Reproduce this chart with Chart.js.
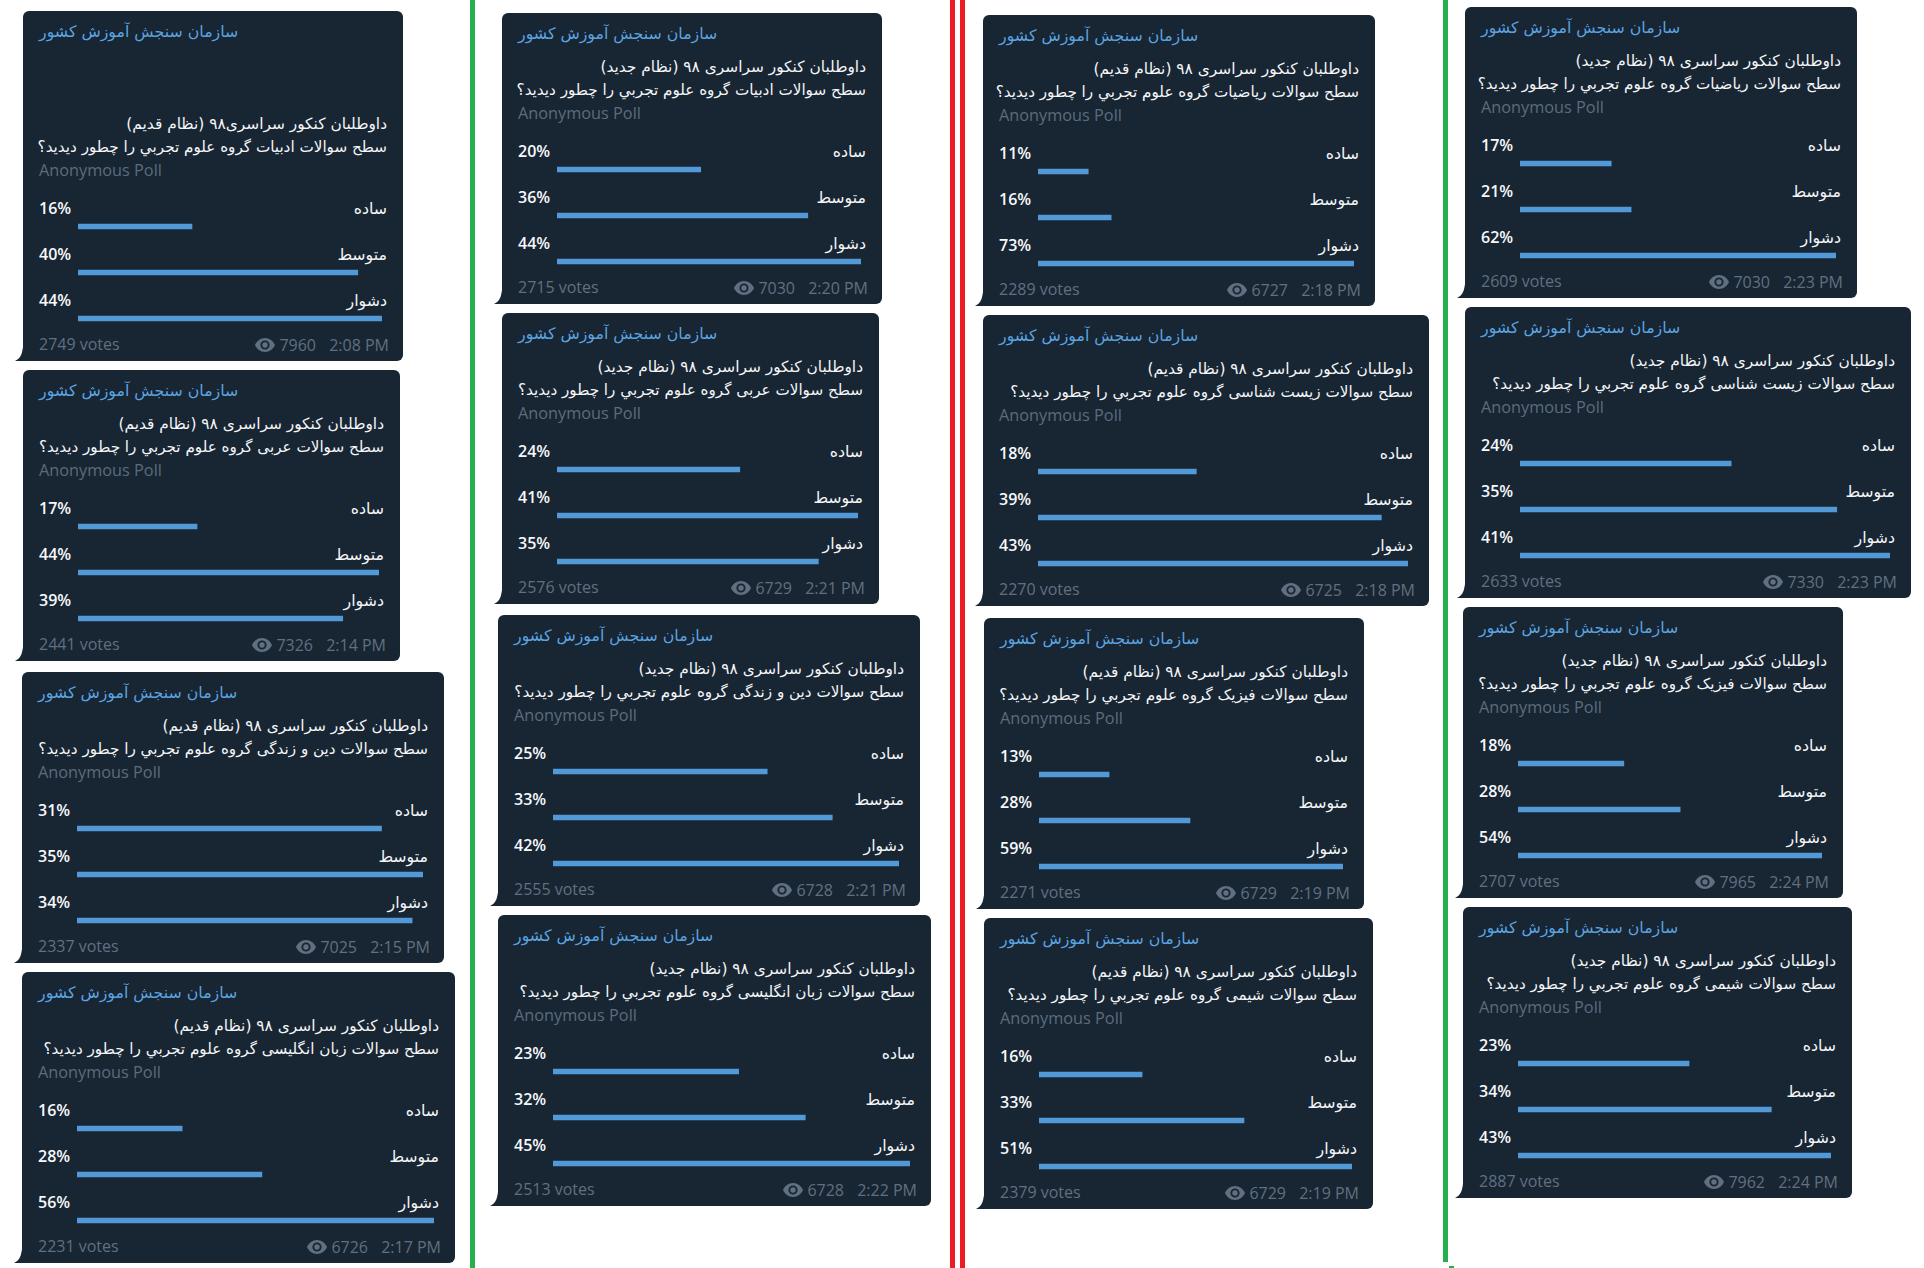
<!DOCTYPE html>
<html lang="fa">
<head>
<meta charset="utf-8">
<title>نظرسنجی سازمان سنجش آموزش کشور</title>
<script src="https://cdn.jsdelivr.net/npm/chart.js@4"></script>
<style>
html,body{margin:0;padding:0;background:#fff;}
#page{position:relative;width:1924px;height:1268px;overflow:hidden;background:#fff;font-family:'Open Sans','DejaVu Sans',sans-serif;}
.rule{position:absolute;}
.card{position:absolute;background:#182533;border-radius:6px;border-bottom-left-radius:0;}
.tail{position:absolute;left:-8px;bottom:0;width:9px;height:14px;background:#182533;clip-path:path('M9 0 L9 14 L0 14 C2 13 5 11 6.500 7 C7.200 4.500 7.800 2 8 0 Z');}
.t{position:absolute;white-space:nowrap;line-height:24px;height:24px;}
.fa{direction:rtl;font-family:'DejaVu Sans',sans-serif;}
.title{color:#5ba4e0;font-size:15.8px;left:16px;}
.q{color:#f4f6f8;font-size:15.4px;right:16px;}
.q2{font-size:15.2px;}
.opt{color:#f4f6f8;font-size:15.8px;right:16px;}
.anon{color:#5c6c7c;font-size:16.3px;left:16px;}
.pct{color:#f7f9fb;font-size:16px;font-weight:600;left:16px;}
.votes,.views,.time{color:#607080;font-size:16px;}
.votes{left:16px;}
.eye{position:absolute;width:20px;height:14px;}
canvas{position:absolute;display:block;}
</style>
</head>
<body>
<div id="page"></div>
<script>
/* ---------- data ---------- */
const channelName = 'سازمان سنجش آموزش کشور';
const anonymousLabel = 'Anonymous Poll';
const optionLabels = ['ساده', 'متوسط', 'دشوار'];

const questionFirstLines = [
  'داوطلبان کنکور سراسری۹۸ (نظام قدیم)',
  'داوطلبان کنکور سراسری ۹۸ (نظام قدیم)',
  'داوطلبان کنکور سراسری ۹۸ (نظام قدیم)',
  'داوطلبان کنکور سراسری ۹۸ (نظام قدیم)',
  'داوطلبان کنکور سراسری ۹۸ (نظام جدید)',
  'داوطلبان کنکور سراسری ۹۸ (نظام جدید)',
  'داوطلبان کنکور سراسری ۹۸ (نظام جدید)',
  'داوطلبان کنکور سراسری ۹۸ (نظام جدید)',
  'داوطلبان کنکور سراسری ۹۸ (نظام قدیم)',
  'داوطلبان کنکور سراسری ۹۸ (نظام قدیم)',
  'داوطلبان کنکور سراسری ۹۸ (نظام قدیم)',
  'داوطلبان کنکور سراسری ۹۸ (نظام قدیم)',
  'داوطلبان کنکور سراسری ۹۸ (نظام جدید)',
  'داوطلبان کنکور سراسری ۹۸ (نظام جدید)',
  'داوطلبان کنکور سراسری ۹۸ (نظام جدید)',
  'داوطلبان کنکور سراسری ۹۸ (نظام جدید)'
];
const questionSecondLines = [
  'سطح سوالات ادبیات گروه علوم تجربي را چطور دیدید؟',
  'سطح سوالات عربی گروه علوم تجربي را چطور دیدید؟',
  'سطح سوالات دین و زندگی گروه علوم تجربي را چطور دیدید؟',
  'سطح سوالات زبان انگلیسی گروه علوم تجربي را چطور دیدید؟',
  'سطح سوالات ادبیات گروه علوم تجربي را چطور دیدید؟',
  'سطح سوالات عربی گروه علوم تجربي را چطور دیدید؟',
  'سطح سوالات دین و زندگی گروه علوم تجربي را چطور دیدید؟',
  'سطح سوالات زبان انگلیسی گروه علوم تجربي را چطور دیدید؟',
  'سطح سوالات ریاضیات گروه علوم تجربي را چطور دیدید؟',
  'سطح سوالات زیست شناسی گروه علوم تجربي را چطور دیدید؟',
  'سطح سوالات فیزیک گروه علوم تجربي را چطور دیدید؟',
  'سطح سوالات شیمی گروه علوم تجربي را چطور دیدید؟',
  'سطح سوالات ریاضیات گروه علوم تجربي را چطور دیدید؟',
  'سطح سوالات زیست شناسی گروه علوم تجربي را چطور دیدید؟',
  'سطح سوالات فیزیک گروه علوم تجربي را چطور دیدید؟',
  'سطح سوالات شیمی گروه علوم تجربي را چطور دیدید؟'
];

/* printed percentages: easy, medium, hard */
const printedPercents = [
  [16,40,44],[17,44,39],[31,35,34],[16,28,56],
  [20,36,44],[24,41,35],[25,33,42],[23,32,45],
  [11,16,73],[18,39,43],[13,28,59],[16,33,51],
  [17,21,62],[24,35,41],[18,28,54],[23,34,43]
];
/* bar lengths, in percent */
const barPercents = [
  [16.5,40.5,44],[17.4,44,38.7],[30.8,35,33.9],[16.5,29,56],
  [20.8,36.3,44],[24.9,41,35.6],[26,33.9,42],[23.4,31.8,45],
  [11.6,16.9,73],[18.4,39.9,43],[13.6,29.3,59],[16.8,33.4,51],
  [17.9,21.8,62],[23.4,35.1,41],[18.8,28.8,54],[23.5,34.8,43]
];
const voteCounts = [2749,2441,2337,2231,2715,2576,2555,2513,2289,2270,2271,2379,2609,2633,2707,2887];
const viewCounts = [7960,7326,7025,6726,7030,6729,6728,6728,6727,6725,6729,6729,7030,7330,7965,7962];
const postTimes = ['2:08 PM','2:14 PM','2:15 PM','2:17 PM','2:20 PM','2:21 PM','2:21 PM','2:22 PM',
                   '2:18 PM','2:18 PM','2:19 PM','2:19 PM','2:23 PM','2:23 PM','2:24 PM','2:24 PM'];

/* ---------- page layout (screenshot collage) ---------- */
const cardLeft   = [23,23,22,22, 502,502,498,498, 983,983,984,984, 1465,1465,1463,1463];
const cardRight  = [403,400,444,455, 882,879,920,931, 1375,1429,1364,1373, 1857,1911,1843,1852];
const cardTop    = [11,370,672,972, 13,313,615,915, 15,315,618,918, 7,307,607,907];
const cardHeight = [350,291,291,291, 291,291,291,291, 291,291,291,291, 291,291,291,291];
const dividerRules = [
  {x:470,w:5,h:1268,c:'#22b14c'},
  {x:950,w:5,h:1268,c:'#ed1c24'},
  {x:960,w:5,h:1268,c:'#ed1c24'},
  {x:1443,w:5,h:1262,c:'#22b14c'},
  {x:1449,y:1266,w:5,h:2,c:'#22b14c'}
];

const page = document.getElementById('page');
dividerRules.forEach(r => {
  const d = document.createElement('div');
  d.className = 'rule';
  d.style.cssText = `left:${r.x}px;top:${r.y||0}px;width:${r.w}px;height:${r.h}px;background:${r.c}`;
  page.appendChild(d);
});

function addText(parent, cls, text, center, extra) {
  const s = document.createElement('div');
  s.className = 't ' + cls;
  s.textContent = text;
  s.style.top = (center - 12) + 'px';
  if (extra) Object.assign(s.style, extra);
  parent.appendChild(s);
  return s;
}

const BAR_LEFT = 55, BAR_RIGHT_PAD = 21, BAR_AREA_TOP = 133, ROW = 46;

cardLeft.forEach((left, i) => {
  const width = cardRight[i] - left;
  const extra = cardHeight[i] - 291;
  const card = document.createElement('div');
  card.className = 'card';
  card.style.cssText = `left:${left}px;top:${cardTop[i]}px;width:${width}px;height:${cardHeight[i]}px`;
  page.appendChild(card);
  const tail = document.createElement('div');
  tail.className = 'tail';
  card.appendChild(tail);

  addText(card, 'fa title', channelName, 21);
  addText(card, 'fa q', questionFirstLines[i], 54 + extra);
  addText(card, 'fa q q2', questionSecondLines[i], 76.500 + extra);
  addText(card, 'anon', anonymousLabel, 100 + extra);

  optionLabels.forEach((label, r) => {
    addText(card, 'pct', printedPercents[i][r] + '%', 138 + extra + r * ROW);
    addText(card, 'fa opt', label, 139 + extra + r * ROW);
  });

  addText(card, 'votes', voteCounts[i] + ' votes', 274 + extra);
  addText(card, 'time', postTimes[i], 275 + extra, {right:'14px'});
  addText(card, 'views', String(viewCounts[i]), 275 + extra, {right:'87px'});
  const eye = document.createElementNS('http://www.w3.org/2000/svg', 'svg');
  eye.setAttribute('viewBox', '0 0 20 14');
  eye.setAttribute('class', 'eye');
  eye.style.right = '128px';
  eye.style.top = (268 + extra) + 'px';
  eye.innerHTML = '<path fill="#607080" d="M10 0C5.5 0 1.7 2.9 0 7c1.7 4.1 5.5 7 10 7s8.3-2.9 10-7c-1.7-4.1-5.5-7-10-7zm0 11.6A4.6 4.6 0 1 1 10 2.4a4.6 4.6 0 0 1 0 9.2zM10 4.300a2.700 2.700 0 1 0 0 5.400a2.700 2.700 0 0 0 0-5.400z"/>';
  card.appendChild(eye);

  const canvas = document.createElement('canvas');
  const barFull = width - BAR_LEFT - BAR_RIGHT_PAD;
  canvas.width = barFull;
  canvas.height = ROW * 3 + 1;
  canvas.style.cssText = `left:${BAR_LEFT}px;top:${BAR_AREA_TOP + extra}px;width:${barFull}px;height:${ROW * 3 + 1}px`;
  card.appendChild(canvas);

  new Chart(canvas, {
    type: 'bar',
    data: {
      labels: optionLabels,
      datasets: [{
        data: barPercents[i],
        backgroundColor: '#5299d8',
        borderWidth: 0,
        barThickness: 5
      }]
    },
    options: {
      indexAxis: 'y',
      responsive: false,
      animation: false,
      devicePixelRatio: 1,
      layout: {padding: {top: 0.5, bottom: 0.5, left: 0, right: 0}},
      plugins: {legend: {display: false}, tooltip: {enabled: false}, title: {display: false}},
      scales: {
        x: {display: false, min: 0, max: Math.max(...barPercents[i])},
        y: {display: false}
      }
    }
  });
});
</script>
</body>
</html>
